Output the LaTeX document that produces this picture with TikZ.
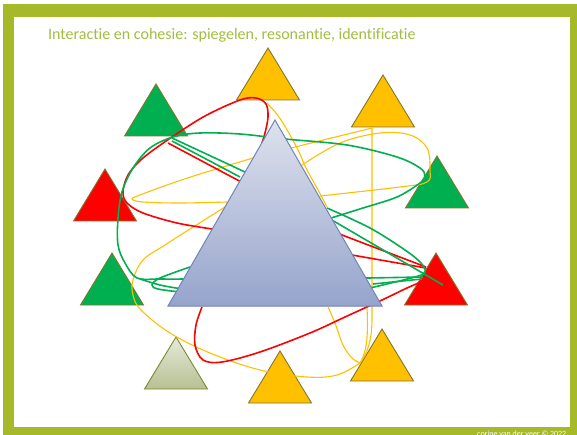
\documentclass[tikz,border=0pt]{standalone}
\usepackage{fontspec}
\setmainfont{Carlito}[Ligatures=NoCommon]
\definecolor{frameG}{RGB}{166,185,41}
\definecolor{titleG}{RGB}{162,190,66}
\definecolor{tyel}{RGB}{255,192,0}
\definecolor{tgrn}{RGB}{0,176,80}
\definecolor{tred}{RGB}{255,0,0}
\definecolor{tedge}{RGB}{128,118,48}
\definecolor{greyedge}{RGB}{122,138,46}
\definecolor{greytop}{RGB}{230,233,220}
\definecolor{greybot}{RGB}{183,192,146}
\definecolor{bigtop}{RGB}{222,226,237}
\definecolor{bigbot}{RGB}{150,164,204}
\definecolor{bigedge}{RGB}{112,132,184}
\newcommand\stri[3]{\filldraw[smalltri, fill=#3] (#1,#2) -- ++(31.5,52) -- ++(-63,0) -- cycle;}
\begin{document}
\begin{tikzpicture}[x=1pt,y=-1pt,
  smalltri/.style={draw=tedge, line width=0.9pt, line join=miter},
  rline/.style={draw=tred, line width=1.6pt},
  gline/.style={draw=tgrn, line width=1.6pt},
  yline/.style={draw=tyel, line width=1.1pt}]
\useasboundingbox (0,0) rectangle (577,435);
\fill[white] (0,0) rectangle (577,435);
\fill[frameG] (3,4) rectangle (577,435);
\fill[white] (14,17) rectangle (570,427);
\node[anchor=base west, font=\fontsize{16}{19}\selectfont, text=titleG, inner sep=0] (title) at (48,40) {Interactie en cohesie: spiegelen, resonantie, identificatie};
\node[anchor=base west, font=\fontsize{8}{9}\selectfont, text=white, inner sep=0] (footer) at (477,436.5) {corine van der veer © 2022};
% small triangles
\stri{268}{48}{tyel}
\stri{383}{75}{tyel}
\stri{156}{84}{tgrn}
\stri{105}{169}{tred}
\stri{437}{156}{tgrn}
\stri{112}{253}{tgrn}
\stri{436}{253}{tred}
\stri{280}{351}{tyel}
\stri{382}{329}{tyel}
\shade[top color=greytop, bottom color=greybot] (176,337) -- ++(31.5,52) -- ++(-63,0) -- cycle;
\draw[draw=greyedge, line width=0.9pt] (176,337) -- ++(31.5,52) -- ++(-63,0) -- cycle;
% yellow lines
\draw[yline] (372,128) -- (372,318) .. controls (372,340) and (368,352) .. (360,363);
\draw[yline] (367,307) .. controls (368,330) and (368,350) .. (360,363);
\draw[yline] plot[smooth, tension=0.6] coordinates {(267,103) (279,117) (290,135) (299,152) (306,168) (318,190) (327,207)};
\draw[yline] plot[smooth, tension=0.6] coordinates {(328,307) (335,323) (343,345) (352,358) (360,363)};
\draw[yline] (372,128) -- (291,148);
\draw[yline] plot[smooth, tension=0.6] coordinates {(302,165) (340,143) (380,133) (410,135) (427,148) (430,170) (427,182) (400,187) (320,196)};
\draw[yline] plot[smooth, tension=0.6] coordinates {(253,158) (200,174) (167,185) (140,195) (132,199) (143,202) (180,203) (227,202)};
\draw[yline] plot[smooth, tension=0.6] coordinates {(225,207) (190,229) (165,245) (143,260) (133,280) (133,295) (141,310) (170,333) (210,353) (260,370) (307,377) (337,375) (360,363)};
% red lines
\draw[rline] plot[smooth, tension=0.55] coordinates {(212,229) (177,223) (143,213) (127,203) (123,192) (128,175) (143,158) (172,137) (205,116) (240,100) (256,98) (266,104) (268,117) (265,133) (262,143)};
\draw[rline] (168,143) -- (245,184) -- (342,235) -- (426,267);
\draw[rline] (352,255) -- (426,268);
\draw[rline] plot[smooth, tension=0.55] coordinates {(421,282) (407,288) (382,300) (345,317) (310,333) (260,352) (222,362) (203,360) (195,345) (196,325) (202,307)};
% green lines
\draw[gline] plot[smooth, tension=0.55] coordinates {(331,218) (363,208) (397,197) (420,183) (425,176) (420,168) (397,157) (347,145) (285,139) (240,134) (200,133) (173,137) (150,148) (133,168) (122,192) (118,218) (118,245) (125,263) (137,278) (160,279) (190,279)};
\draw[gline] (190,279) -- (368,278) -- (423,277);
\draw[gline] (172,138) -- (245,172) -- (337,223) -- (443,285);
\draw[gline] (172,141) -- (240,177);
\draw[gline] plot[smooth, tension=0.55] coordinates {(327,208) (370,228) (405,250) (421,263) (425,272) (415,277) (370,288)};
\draw[gline] plot[smooth, tension=0.55] coordinates {(180,292) (158,289) (152,285) (160,278) (190,267)};
\draw[gline] plot[smooth, tension=0.55] coordinates {(140,279) (160,285) (182,289)};
\draw[gline] (373,284) -- (422,279);
% big triangle
\shade[top color=bigtop, bottom color=bigbot] (275,120) -- (382,306) -- (168,306) -- cycle;
\draw[draw=bigedge, line width=1pt, line join=miter] (275,120) -- (382,306) -- (168,306) -- cycle;
\end{tikzpicture}
\end{document}
